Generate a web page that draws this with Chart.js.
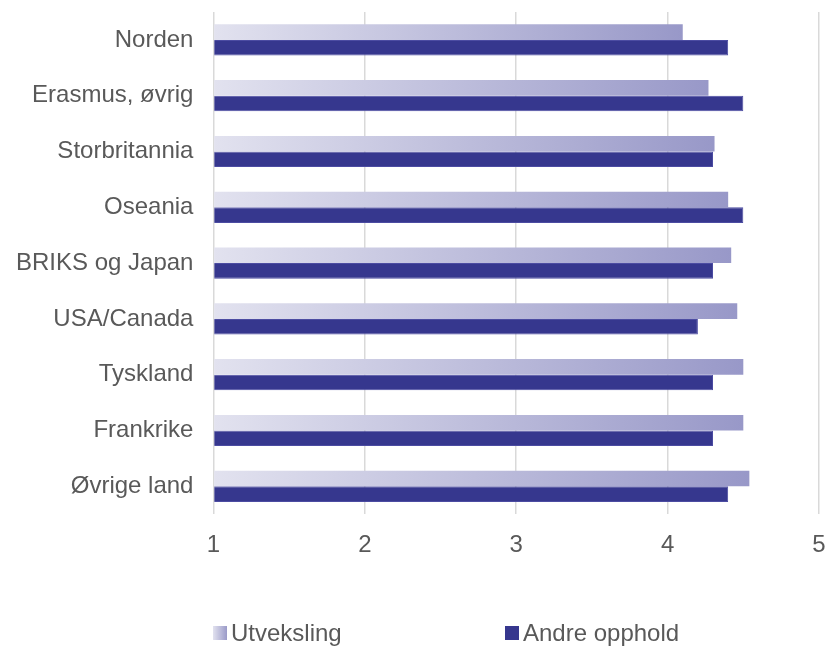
<!DOCTYPE html>
<html>
<head>
<meta charset="utf-8">
<script src="https://cdn.jsdelivr.net/npm/chart.js@4"></script>
<style>
  html, body { margin: 0; padding: 0; background: #fff; }
  #wrap { position: relative; width: 828px; height: 646px; }
  #legend { position: absolute; top: 619px; left: 0; width: 828px; height: 28px;
            font-family: "Liberation Sans", Arial, sans-serif; font-size: 24px; color: #595959; }
  .item { position: absolute; top: 0; display: flex; align-items: center; height: 28px; }
  .box { width: 14px; height: 14px; margin-right: 4px; }
</style>
</head>
<body>
<div id="wrap">
  <canvas id="chart" width="828" height="646"></canvas>
  <div id="legend">
    <div class="item" style="left:213px"><span class="box" style="background:linear-gradient(to right,#e2e2ef,#9a9ac8)"></span>Utveksling</div>
    <div class="item" style="left:505px"><span class="box" style="background:#36378e"></span>Andre opphold</div>
  </div>
</div>
<script>
const categories = ["Norden", "Erasmus, øvrig", "Storbritannia", "Oseania", "BRIKS og Japan",
                    "USA/Canada", "Tyskland", "Frankrike", "Øvrige land"];
const utveksling = [4.10, 4.27, 4.31, 4.40, 4.42, 4.46, 4.50, 4.50, 4.54];
const andreOpphold = [4.40, 4.50, 4.30, 4.50, 4.30, 4.20, 4.30, 4.30, 4.40];
const xTicks = [1, 2, 3, 4, 5];

const textColor = "#595959";
const fontFamily = '"Liberation Sans", Arial, sans-serif';
const xTickGap = 17;
const yTickGap = 20;

// gradient from the left of the plot to the end of each bar
function fadeFill(context) {
    const chart = context.chart;
    const area = chart.chartArea;
    if (!area || context.raw === undefined) return "#c0c0dd";
    const end = chart.scales.x.getPixelForValue(context.raw);
    const g = chart.ctx.createLinearGradient(area.left, 0, end, 0);
    g.addColorStop(0, "#e2e2ef");
    g.addColorStop(1, "#9898c8");
    return g;
}

// tick padding should not also push the plot inwards
function noEdgePadding(scale) {
    scale.paddingLeft = 0;
    scale.paddingRight = 0;
    scale.paddingTop = 0;
    scale.paddingBottom = 0;
}

new Chart(document.getElementById("chart").getContext("2d"), {
    type: "bar",
    data: {
        labels: categories,
        datasets: [
            {
                label: "Utveksling",
                data: utveksling,
                backgroundColor: fadeFill,
                borderWidth: 0,
                base: 1
            },
            {
                label: "Andre opphold",
                data: andreOpphold,
                backgroundColor: "#36378e",
                borderColor: "#4c4ca2",
                borderWidth: 1,
                borderSkipped: "start",
                base: 1
            }
        ]
    },
    options: {
        indexAxis: "y",
        responsive: false,
        animation: false,
        layout: { padding: { left: 16, right: 9, top: 12, bottom: 86 } },
        plugins: {
            legend: { display: false },
            tooltip: { enabled: false }
        },
        datasets: {
            bar: { categoryPercentage: 0.56, barPercentage: 1.0 }
        },
        scales: {
            x: {
                min: 1,
                max: 5,
                afterBuildTicks: axis => { axis.ticks = xTicks.map(v => ({ value: v })); },
                afterFit: scale => { noEdgePadding(scale); scale.height -= xTickGap; },
                grid: { color: "#d9d9d9", lineWidth: 1.5, drawTicks: false },
                border: { display: false },
                ticks: { color: textColor, font: { family: fontFamily, size: 24 }, padding: xTickGap }
            },
            y: {
                afterFit: scale => { noEdgePadding(scale); scale.width -= yTickGap; },
                grid: { display: false, drawTicks: false },
                border: { display: false },
                ticks: { color: textColor, font: { family: fontFamily, size: 24 }, padding: yTickGap }
            }
        }
    }
});
</script>
</body>
</html>
